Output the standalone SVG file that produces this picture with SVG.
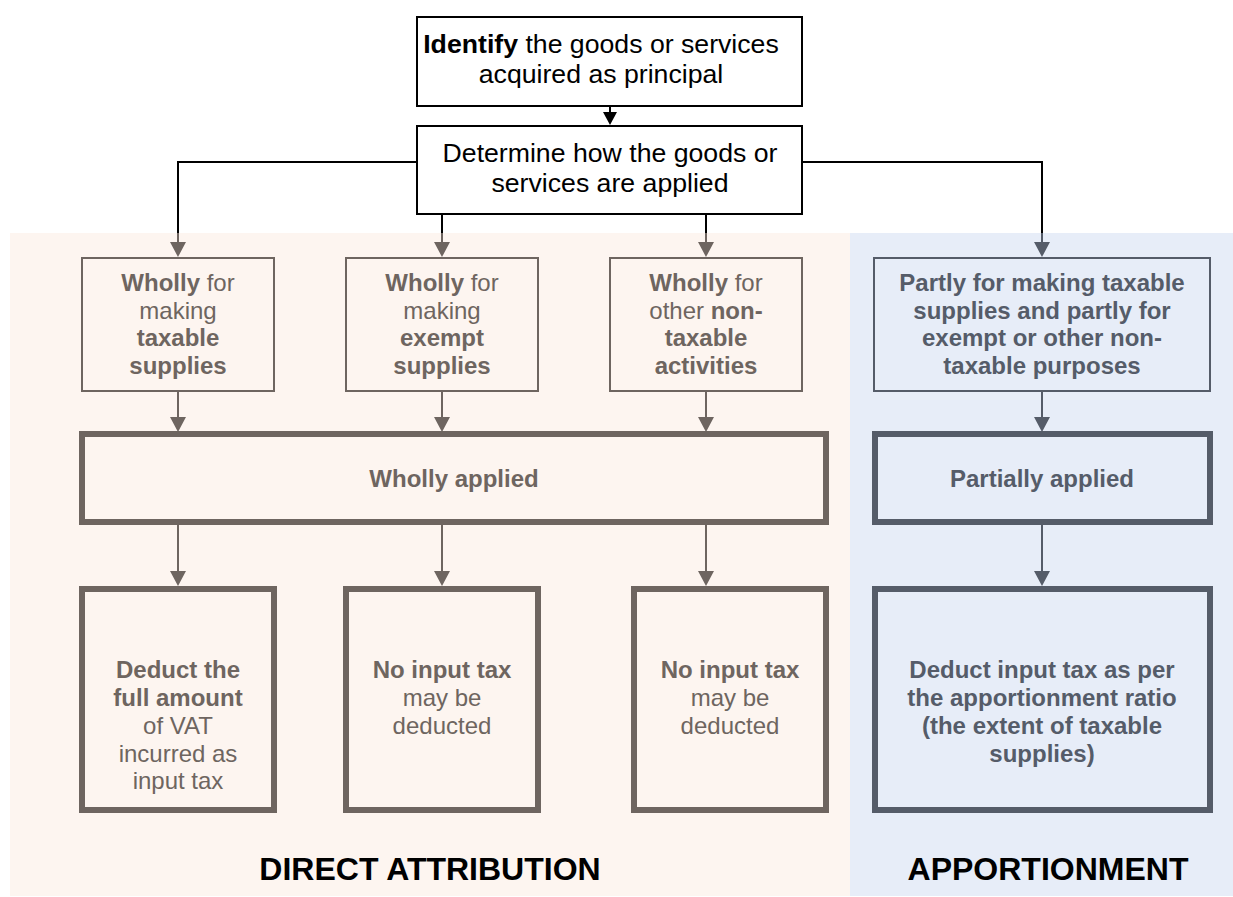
<svg xmlns="http://www.w3.org/2000/svg" width="1233" height="897" viewBox="0 0 1233 897">
<style>
text{font-family:"Liberation Sans",Arial,sans-serif;text-anchor:middle}
.b{font-weight:bold}
.top{font-size:26.67px;fill:#000}
.da{font-size:24px;fill:#6e6560}
.ap{font-size:24px;fill:#555c69;font-weight:bold}
.lbl{font-size:32px;font-weight:bold;fill:#000}
.bk{fill:#fff;stroke:#000;stroke-width:2}
.thinD{fill:none;stroke:#6e6560;stroke-width:2}
.thickD{fill:none;stroke:#6e6560;stroke-width:6}
.thinA{fill:none;stroke:#555c69;stroke-width:2}
.thickA{fill:none;stroke:#555c69;stroke-width:6}
.cb{fill:none;stroke:#000;stroke-width:2}
.cd{fill:none;stroke:#6e6560;stroke-width:2;marker-end:url(#ad)}
.ca{fill:none;stroke:#555c69;stroke-width:2;marker-end:url(#aa)}
</style>
<defs>
<marker id="ab" viewBox="0 0 13 14" refX="0" refY="7" markerWidth="13" markerHeight="14" markerUnits="userSpaceOnUse" orient="auto"><path d="M0,0 L13,7 L0,14 z" fill="#000"/></marker>
<marker id="ad" viewBox="0 0 15 16" refX="0" refY="8" markerWidth="15" markerHeight="16" markerUnits="userSpaceOnUse" orient="auto"><path d="M0,0 L15,8 L0,16 z" fill="#6e6560"/></marker>
<marker id="aa" viewBox="0 0 15 16" refX="0" refY="8" markerWidth="15" markerHeight="16" markerUnits="userSpaceOnUse" orient="auto"><path d="M0,0 L15,8 L0,16 z" fill="#555c69"/></marker>
</defs>
<rect x="0" y="0" width="1233" height="897" fill="#fff"/>
<g id="panels">
<rect x="10" y="233" width="840" height="663" fill="#fdf5f0"/>
<rect x="850" y="233" width="383" height="663" fill="#e7edf8"/>
</g>
<g id="connectors">
<path class="cb" d="M610,106 V112" marker-end="url(#ab)"/>
<path class="cb" d="M417,162 H178 V233"/>
<path class="cb" d="M802,162 H1042 V233"/>
<path class="cb" d="M442,214 V233"/>
<path class="cb" d="M706,214 V233"/>
<path class="cd" d="M178,233 V242"/>
<path class="cd" d="M442,233 V242"/>
<path class="cd" d="M706,233 V242"/>
<path class="ca" d="M1042,233 V242"/>
<path class="cd" d="M178,391 V417"/>
<path class="cd" d="M442,391 V417"/>
<path class="cd" d="M706,391 V417"/>
<path class="ca" d="M1042,391 V417"/>
<path class="cd" d="M178,525 V571"/>
<path class="cd" d="M442,525 V571"/>
<path class="cd" d="M706,525 V571"/>
<path class="ca" d="M1042,525 V571"/>
</g>
<g id="identify">
<rect class="bk" x="417" y="17" width="385" height="89"/>
<text class="top" x="601" y="53"><tspan class="b">Identify</tspan> the goods or services</text>
<text class="top" x="601" y="83">acquired as principal</text>
</g>
<g id="determine">
<rect class="bk" x="417" y="126" width="385" height="88"/>
<text class="top" x="610" y="162">Determine how the goods or</text>
<text class="top" x="610" y="192">services are applied</text>
</g>
<g id="wholly-taxable">
<rect class="thinD" x="82" y="258" width="192" height="133"/>
<text class="da" x="178" y="291"><tspan class="b">Wholly</tspan> for</text>
<text class="da" x="178" y="318.5">making</text>
<text class="da b" x="178" y="346">taxable</text>
<text class="da b" x="178" y="373.5">supplies</text>
</g>
<g id="wholly-exempt">
<rect class="thinD" x="346" y="258" width="192" height="133"/>
<text class="da" x="442" y="291"><tspan class="b">Wholly</tspan> for</text>
<text class="da" x="442" y="318.5">making</text>
<text class="da b" x="442" y="346">exempt</text>
<text class="da b" x="442" y="373.5">supplies</text>
</g>
<g id="wholly-nontaxable">
<rect class="thinD" x="610" y="258" width="192" height="133"/>
<text class="da" x="706" y="291"><tspan class="b">Wholly</tspan> for</text>
<text class="da" x="706" y="318.5">other <tspan class="b">non-</tspan></text>
<text class="da b" x="706" y="346">taxable</text>
<text class="da b" x="706" y="373.5">activities</text>
</g>
<g id="partly">
<rect class="thinA" x="874" y="258" width="336" height="133"/>
<text class="ap" x="1042" y="291">Partly for making taxable</text>
<text class="ap" x="1042" y="318.5">supplies and partly for</text>
<text class="ap" x="1042" y="346">exempt or other non-</text>
<text class="ap" x="1042" y="373.5">taxable purposes</text>
</g>
<g id="wholly-applied">
<rect class="thickD" x="82" y="434" width="744" height="88"/>
<text class="da b" x="454" y="487">Wholly applied</text>
</g>
<g id="partially-applied">
<rect class="thickA" x="875" y="434" width="335" height="88"/>
<text class="ap" x="1042" y="487">Partially applied</text>
</g>
<g id="deduct-full">
<rect class="thickD" x="82" y="589" width="192" height="221"/>
<text class="da b" x="178" y="678">Deduct the</text>
<text class="da b" x="178" y="706">full amount</text>
<text class="da" x="178" y="734">of VAT</text>
<text class="da" x="178" y="762">incurred as</text>
<text class="da" x="178" y="789">input tax</text>
</g>
<g id="no-input-1">
<rect class="thickD" x="346" y="589" width="192" height="221"/>
<text class="da b" x="442" y="678">No input tax</text>
<text class="da" x="442" y="706">may be</text>
<text class="da" x="442" y="734">deducted</text>
</g>
<g id="no-input-2">
<rect class="thickD" x="634" y="589" width="192" height="221"/>
<text class="da b" x="730" y="678">No input tax</text>
<text class="da" x="730" y="706">may be</text>
<text class="da" x="730" y="734">deducted</text>
</g>
<g id="deduct-ratio">
<rect class="thickA" x="875" y="589" width="335" height="221"/>
<text class="ap" x="1042" y="678">Deduct input tax as per</text>
<text class="ap" x="1042" y="706">the apportionment ratio</text>
<text class="ap" x="1042" y="734">(the extent of taxable</text>
<text class="ap" x="1042" y="762">supplies)</text>
</g>
<g id="labels">
<text class="lbl" x="430" y="880">DIRECT ATTRIBUTION</text>
<text class="lbl" x="1048" y="880">APPORTIONMENT</text>
</g>
</svg>
